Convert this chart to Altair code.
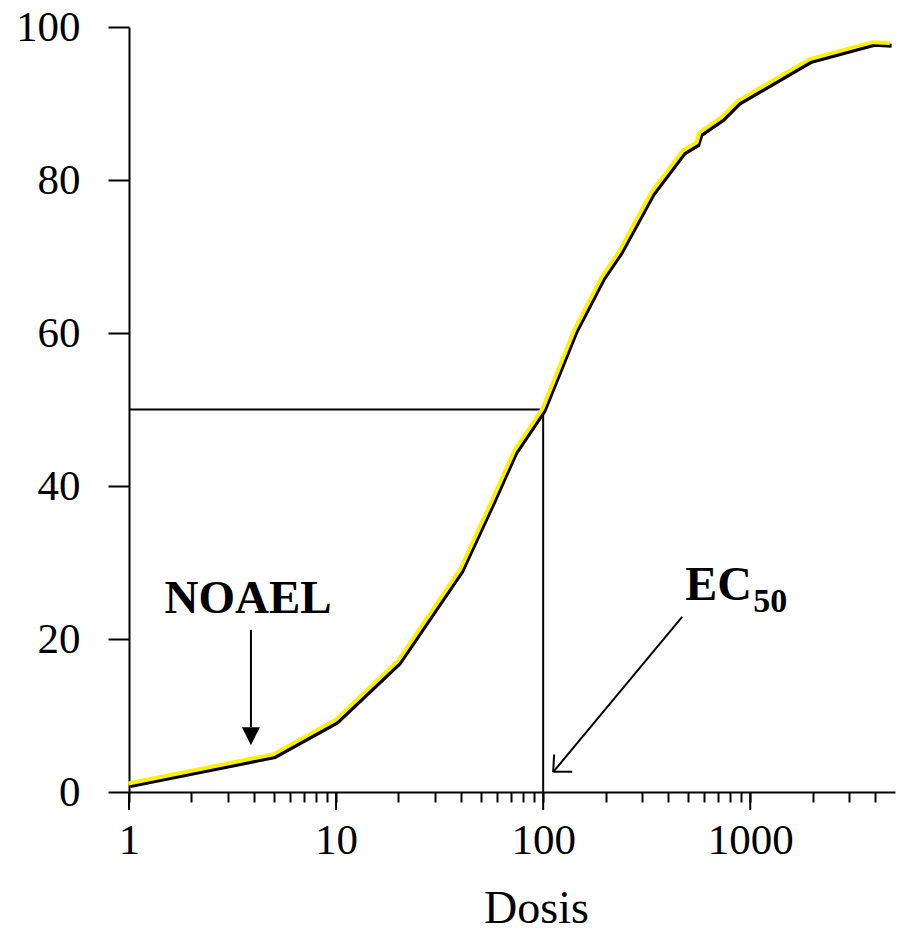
import altair as alt
import pandas as pd

# Dose-response curve
dose = [1, 5, 10, 20, 40, 57, 73, 100, 143, 193, 235, 336, 475, 554, 573, 732, 875, 1950, 3930, 4750]
resp = [1.0, 4.8, 9.3, 17.0, 29.0, 38.0, 44.5, 50.0, 60.4, 67.2, 70.6, 78.3, 83.7, 84.8, 86.1, 88.1, 90.2, 95.7, 97.9, 97.8]

# Axis ticks
x_ticks = [1, 2, 3, 4, 5, 6, 7, 8, 9, 10, 20, 30, 40, 50, 60, 70, 80, 90,
           100, 200, 300, 400, 500, 600, 700, 800, 900, 1000, 2000, 3000, 4000]
x_major = [1, 10, 100, 1000]
y_ticks = [0, 20, 40, 60, 80, 100]

# EC50 guide lines
guide_x1 = [1, 100]
guide_x2 = [100, 100]
guide_y1 = [50, 0]
guide_y2 = [50, 50]

# Annotation arrows (data coordinates)
noael_arrow_x = [3.88]
noael_arrow_y1 = [21.2]
noael_arrow_y2 = [8.5]
noael_head = [3.88, 7.3]
ec_arrow_x1 = [469, 113, 113]
ec_arrow_y1 = [22.9, 4.9, 2.65]
ec_arrow_x2 = [111.7, 111.7, 138]
ec_arrow_y2 = [2.6, 2.6, 2.65]

labels_text = ["NOAEL", "EC", "50"]
labels_x = [3.76, 485, 1034]
labels_y = [23.4, 25.1, 23.5]

FONT = "Liberation Serif"

curve = pd.DataFrame({"dose": dose, "resp": resp})
xscale = alt.Scale(type="log", domain=[1, 5000], nice=False)
yscale = alt.Scale(domain=[0, 100], nice=False)

xaxis = alt.Axis(
    values=x_ticks, title="Dosis", grid=False,
    labelExpr="(datum.value==1||datum.value==10||datum.value==100||datum.value==1000) ? format(datum.value,'d') : ''",
    labelFont=FONT, labelFontSize=43, labelColor="black", labelPadding=17,
    labelFlush=False, labelOverlap=False,
    tickSize=10, tickWidth=2, tickColor="black",
    domainColor="black", domainWidth=2,
    titleFont=FONT, titleFontSize=46, titleFontWeight="normal", titleColor="black",
    titleX=407, titleY=130, titleBaseline="alphabetic", titleAlign="center",
)
yaxis = alt.Axis(
    values=y_ticks, title=None, grid=False,
    labelFont=FONT, labelFontSize=43, labelColor="black", labelPadding=28,
    labelFlush=False, labelOverlap=False,
    tickSize=21, tickWidth=2, tickColor="black",
    domainColor="black", domainWidth=2,
)

x_enc = alt.X("dose:Q", scale=xscale, axis=xaxis)
y_enc = alt.Y("resp:Q", scale=yscale, axis=yaxis)

shadow = alt.Chart(curve).mark_line(color="black", strokeWidth=4, xOffset=1.2, yOffset=1.8).encode(x=x_enc, y=y_enc)
yellow = alt.Chart(curve).mark_line(color="#FFF000", strokeWidth=4, xOffset=-0.6, yOffset=-0.9).encode(
    x=alt.X("dose:Q", scale=xscale), y=alt.Y("resp:Q", scale=yscale))

guides = alt.Chart(pd.DataFrame({"x1": guide_x1, "x2": guide_x2, "y1": guide_y1, "y2": guide_y2})).mark_rule(
    color="black", strokeWidth=2).encode(
    x=alt.X("x1:Q", scale=xscale), x2="x2:Q", y=alt.Y("y1:Q", scale=yscale), y2="y2:Q")

major = alt.Chart(pd.DataFrame({"t": x_major})).mark_rule(color="black", strokeWidth=2).encode(
    x=alt.X("t:Q", scale=xscale), y=alt.value(765), y2=alt.value(783))

noael_line = alt.Chart(pd.DataFrame({"x": noael_arrow_x, "y1": noael_arrow_y1, "y2": noael_arrow_y2})).mark_rule(
    color="black", strokeWidth=2).encode(
    x=alt.X("x:Q", scale=xscale), y=alt.Y("y1:Q", scale=yscale), y2="y2:Q")
noael_tip = alt.Chart(pd.DataFrame({"x": [noael_head[0]], "y": [noael_head[1]]})).mark_point(
    shape="M-1,-1L1,-1L0,1Z", size=324, filled=True, color="black", opacity=1).encode(
    x=alt.X("x:Q", scale=xscale), y=alt.Y("y:Q", scale=yscale))

ec_lines = alt.Chart(pd.DataFrame({"x1": ec_arrow_x1, "y1": ec_arrow_y1, "x2": ec_arrow_x2, "y2": ec_arrow_y2})).mark_rule(
    color="black", strokeWidth=2).encode(
    x=alt.X("x1:Q", scale=xscale), x2="x2:Q", y=alt.Y("y1:Q", scale=yscale), y2="y2:Q")

lab = pd.DataFrame({"t": labels_text, "x": labels_x, "y": labels_y})
noael_txt = alt.Chart(lab.iloc[[0]]).mark_text(font=FONT, fontSize=47, fontWeight="bold", align="center",
                                               baseline="alphabetic", color="black").encode(
    x=alt.X("x:Q", scale=xscale), y=alt.Y("y:Q", scale=yscale), text="t:N")
ec_txt = alt.Chart(lab.iloc[[1]]).mark_text(font=FONT, fontSize=48, fontWeight="bold", align="left",
                                            baseline="alphabetic", color="black").encode(
    x=alt.X("x:Q", scale=xscale), y=alt.Y("y:Q", scale=yscale), text="t:N")
sub_txt = alt.Chart(lab.iloc[[2]]).mark_text(font=FONT, fontSize=34, fontWeight="bold", align="left",
                                             baseline="alphabetic", color="black").encode(
    x=alt.X("x:Q", scale=xscale), y=alt.Y("y:Q", scale=yscale), text="t:N")

chart = alt.layer(guides, shadow, yellow, major, noael_line, noael_tip, ec_lines, noael_txt, ec_txt, sub_txt).properties(
    width=766, height=765,
    padding={"left": 129, "top": 27, "right": 10, "bottom": 144},
    autosize=alt.AutoSizeParams(type="none"),
    background="white",
).configure_view(stroke=None)

chart.save("out.html", embed_options={"renderer": "svg", "actions": False})
